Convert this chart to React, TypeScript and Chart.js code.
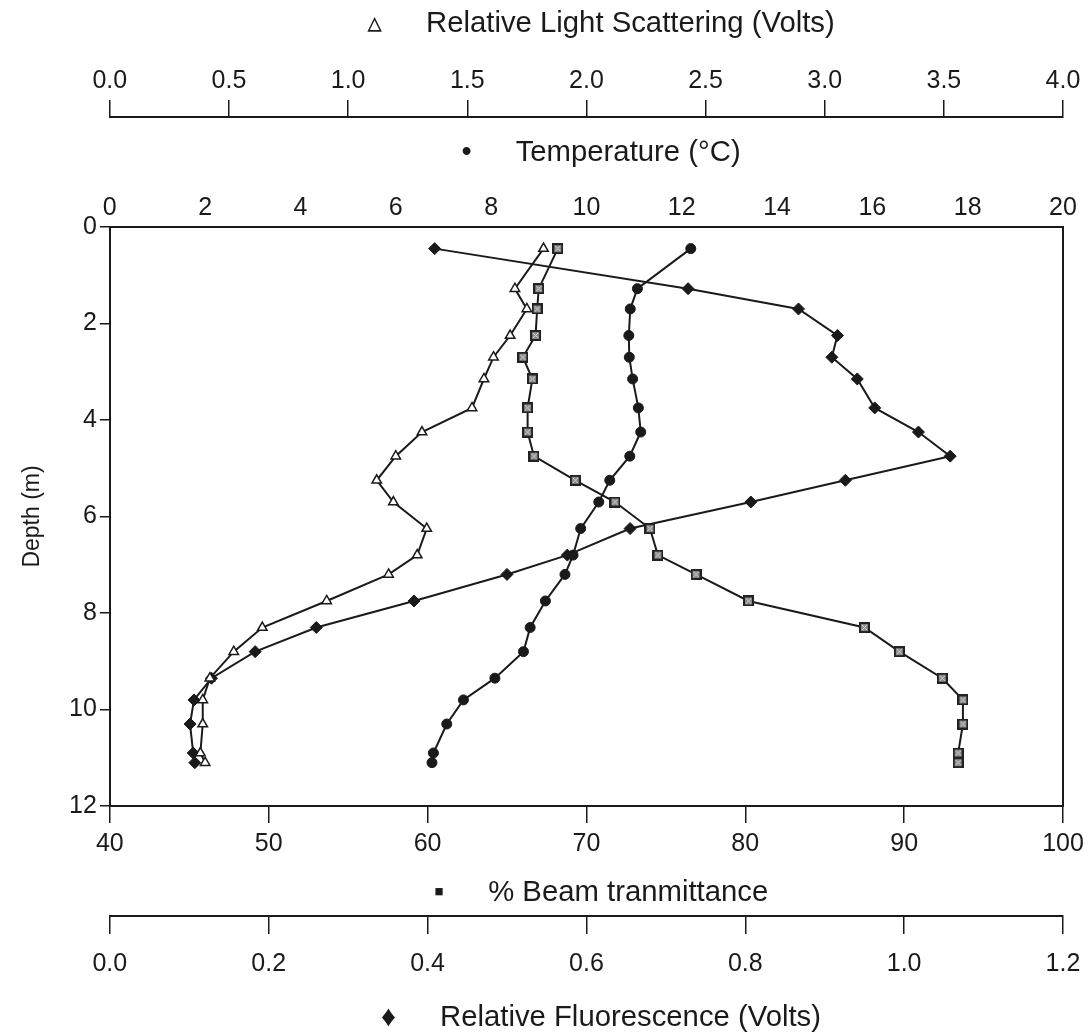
import React, { useEffect, useRef } from 'react';
import { Chart, registerables } from 'chart.js';

Chart.register(...registerables);

// Depth of each sample (m)
const depth = [0.45, 1.28, 1.7, 2.25, 2.7, 3.15, 3.75, 4.25, 4.75, 5.25, 5.7, 6.25, 6.8, 7.2, 7.75, 8.3, 8.8, 9.35, 9.8, 10.3, 10.9, 11.1];
// Relative light scattering (Volts)
const lightScattering = [1.82, 1.70, 1.75, 1.68, 1.61, 1.57, 1.52, 1.31, 1.20, 1.12, 1.19, 1.33, 1.29, 1.17, 0.91, 0.64, 0.52, 0.42, 0.39, 0.39, 0.38, 0.40];
// Temperature (°C)
const temperature = [12.19, 11.07, 10.92, 10.89, 10.90, 10.97, 11.09, 11.14, 10.91, 10.49, 10.26, 9.88, 9.72, 9.55, 9.14, 8.82, 8.68, 8.08, 7.42, 7.07, 6.79, 6.76];
// % Beam transmittance
const beamTransmittance = [68.2, 67.0, 66.9, 66.8, 66.0, 66.6, 66.3, 66.3, 66.7, 69.3, 71.8, 74.0, 74.5, 76.9, 80.2, 87.5, 89.7, 92.4, 93.7, 93.7, 93.4, 93.4];
// Relative fluorescence (Volts)
const fluorescence = [0.409, 0.728, 0.867, 0.916, 0.909, 0.941, 0.963, 1.018, 1.058, 0.926, 0.807, 0.655, 0.576, 0.500, 0.383, 0.260, 0.183, 0.128, 0.106, 0.101, 0.105, 0.107];

// Axis ranges / tick steps
const depthAxis = { min: 0, max: 12, step: 2 };
const tempAxis = { min: 0, max: 20, step: 2 };
const scatterAxis = { min: 0, max: 4, step: 0.5 };
const beamAxis = { min: 40, max: 100, step: 10 };
const fluorAxis = { min: 0, max: 1.2, step: 0.2 };

const titles = {
  scatter: '\u2003\u25B5\u2003\u2002Relative Light Scattering (Volts)',
  temp: '\u2003\u2022\u2003\u2002Temperature (\u00B0C)',
  beam: '\u2003\u25AA\u2003\u2002% Beam tranmittance',
  fluor: '\u2003\u2666\u2003\u2002Relative Fluorescence (Volts)',
  depth: 'Depth (m)',
};

const FONT = "'Liberation Sans', Arial, 'DejaVu Sans', sans-serif";
const INK = '#1a1a1a';

export default function App() {
  const ref = useRef<HTMLCanvasElement>(null);

  useEffect(() => {
    const canvas = ref.current;
    if (!canvas) return;

    const sq = document.createElement('canvas');
    sq.width = 11;
    sq.height = 11;
    const c = sq.getContext('2d')!;
    c.fillStyle = '#222';
    c.fillRect(0, 0, 11, 11);
    c.fillStyle = '#888';
    c.fillRect(2, 2, 7, 7);
    c.strokeStyle = '#ddd';
    c.lineWidth = 1;
    c.beginPath();
    c.moveTo(3, 3); c.lineTo(8, 8);
    c.moveTo(8, 3); c.lineTo(3, 8);
    c.stroke();

    const tickFont = { family: FONT, size: 25 };
    const titleFont = { family: FONT, size: 29.3, lineHeight: 1 };
    const fix1 = (v: any) => Number(v).toFixed(1);
    const border = { display: true, color: INK, width: 2 };

    const pts = (xs: number[]) => depth.map((d, i) => ({ x: xs[i], y: d }));

    const chart = new Chart(canvas, {
      type: 'scatter',
      data: {
        datasets: [
          {
            label: 'Relative Light Scattering',
            data: pts(lightScattering),
            xAxisID: 'xLS', yAxisID: 'y',
            showLine: true,
            borderColor: INK, borderWidth: 2,
            pointStyle: 'triangle', pointRadius: 5.5,
            pointBackgroundColor: '#fff', pointBorderColor: INK, pointBorderWidth: 1.5,
          },
          {
            label: 'Temperature',
            data: pts(temperature),
            xAxisID: 'xT', yAxisID: 'y',
            showLine: true,
            borderColor: INK, borderWidth: 2,
            pointStyle: 'circle', pointRadius: 5,
            pointBackgroundColor: INK, pointBorderColor: INK, pointBorderWidth: 1,
          },
          {
            label: '% Beam transmittance',
            data: pts(beamTransmittance),
            xAxisID: 'xB', yAxisID: 'y',
            showLine: true,
            borderColor: INK, borderWidth: 2,
            pointStyle: sq as any, pointRadius: 5,
          },
          {
            label: 'Relative Fluorescence',
            data: pts(fluorescence),
            xAxisID: 'xF', yAxisID: 'y',
            showLine: true,
            borderColor: INK, borderWidth: 2,
            pointStyle: 'rectRot', pointRadius: 6,
            pointBackgroundColor: INK, pointBorderColor: INK, pointBorderWidth: 1,
          },
        ],
      },
      options: {
        responsive: false,
        animation: false,
        devicePixelRatio: 1,
        layout: { padding: { left: 0, right: 28, top: 0, bottom: 0 } },
        plugins: { legend: { display: false }, tooltip: { enabled: false } },
        scales: {
          y: {
            type: 'linear', position: 'left', reverse: true,
            min: depthAxis.min, max: depthAxis.max,
            ticks: { stepSize: depthAxis.step, font: tickFont, color: INK, padding: 3 },
            grid: { drawOnChartArea: false, tickLength: 10, color: INK, lineWidth: 1.5 },
            border,
            title: { display: true, text: titles.depth, color: INK, font: { family: FONT, size: 23, lineHeight: 1 }, padding: { top: 21, bottom: 22 } },
          },
          yR: {
            type: 'linear', position: 'right',
            min: depthAxis.min, max: depthAxis.max,
            ticks: { display: false },
            grid: { display: false, drawTicks: false },
            border,
          },
          xT: {
            type: 'linear', position: 'top', weight: 0,
            min: tempAxis.min, max: tempAxis.max,
            ticks: { stepSize: tempAxis.step, font: tickFont, color: INK, padding: 4, autoSkip: false, maxRotation: 0 },
            grid: { display: false, drawTicks: false },
            border,
            title: { display: true, text: titles.temp, color: INK, font: titleFont, padding: { top: 21.3, bottom: 21.3 } },
          },
          xLS: {
            type: 'linear', position: 'top', weight: 1,
            min: scatterAxis.min, max: scatterAxis.max,
            ticks: { stepSize: scatterAxis.step, font: tickFont, color: INK, padding: 4, autoSkip: false, maxRotation: 0, callback: fix1 },
            grid: { drawOnChartArea: false, tickLength: 17, color: INK, lineWidth: 1.5 },
            border,
            title: { display: true, text: titles.scatter, color: INK, font: titleFont, padding: { top: 9.5, bottom: 23.2 } },
          },
          xB: {
            type: 'linear', position: 'bottom', weight: 0,
            min: beamAxis.min, max: beamAxis.max,
            ticks: { stepSize: beamAxis.step, font: tickFont, color: INK, padding: 6, autoSkip: false, maxRotation: 0 },
            grid: { drawOnChartArea: false, tickLength: 17, color: INK, lineWidth: 1.5 },
            border,
            title: { display: true, text: titles.beam, color: INK, font: titleFont, padding: { top: 13.3, bottom: 8.3 } },
          },
          xF: {
            type: 'linear', position: 'bottom', weight: 1,
            min: fluorAxis.min, max: fluorAxis.max,
            ticks: { stepSize: fluorAxis.step, font: { family: FONT, size: 25, lineHeight: 2 }, color: INK, padding: 5, autoSkip: false, maxRotation: 0, callback: fix1 },
            grid: { drawOnChartArea: false, tickLength: 18, color: INK, lineWidth: 1.5 },
            border,
            title: { display: true, text: titles.fluor, color: INK, font: titleFont, padding: { top: 9.3, bottom: 0.4 } },
          },
        },
      } as any,
    });

    return () => chart.destroy();
  }, []);

  return (
    <div style={{ position: 'fixed', left: 0, top: 0, width: 1091, height: 1033, background: '#fff' }}>
      <canvas ref={ref} width={1091} height={1033} style={{ display: 'block' }} />
    </div>
  );
}
